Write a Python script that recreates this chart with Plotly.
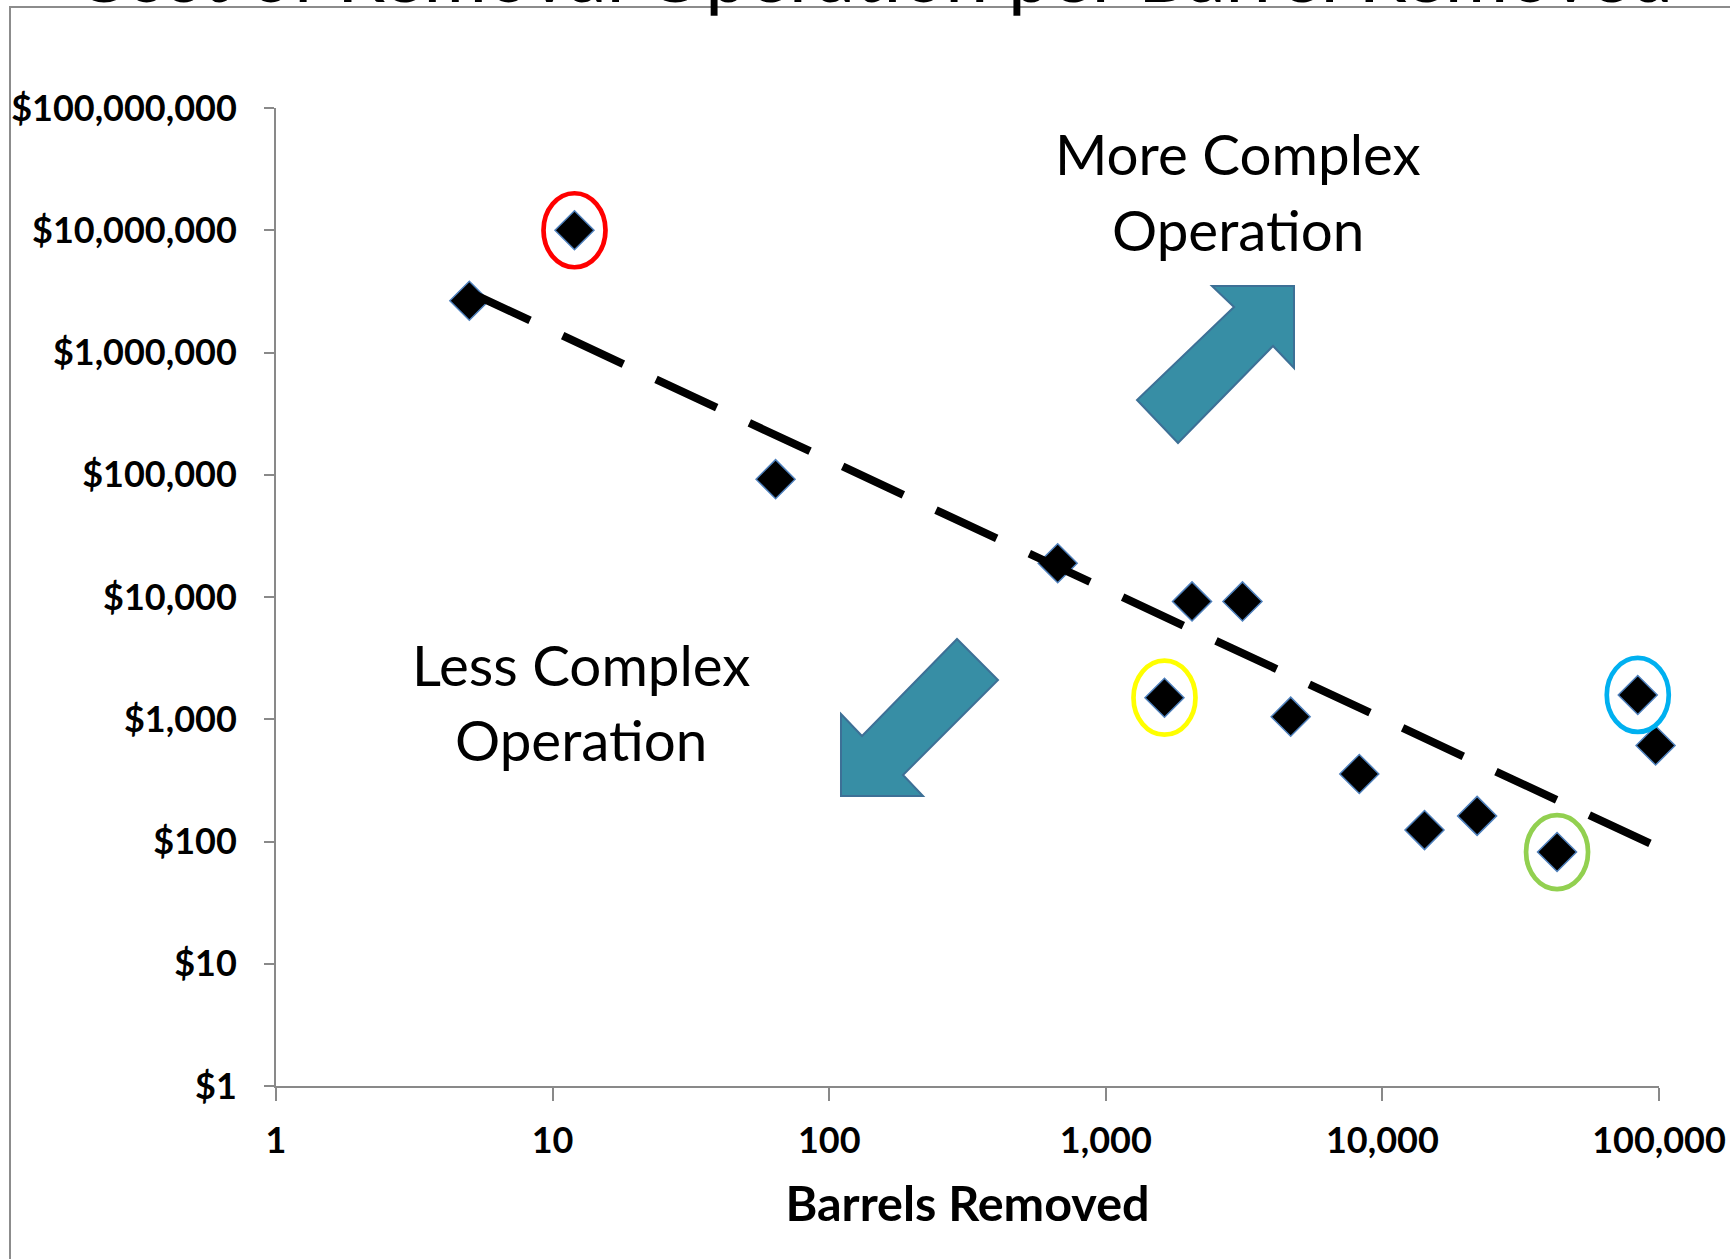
import numpy as np
import plotly.graph_objects as go

# ---------------- data ----------------
barrels = [5, 12, 64, 670, 2050, 3120, 1630, 4660, 8250, 14200, 22000, 42800, 83800, 97200]
cost_per_barrel = [2650000, 10000000, 92000, 18900, 9200, 9200, 1500, 1050, 357, 124, 162, 82, 1580, 610]

x_tick_vals = [1, 10, 100, 1000, 10000, 100000]
x_tick_text = ["1", "10", "100", "1,000", "10,000", "100,000"]
y_tick_vals = [1, 10, 100, 1000, 10000, 100000, 1000000, 10000000, 100000000]
y_tick_text = ["$1", "$10", "$100", "$1,000", "$10,000", "$100,000",
               "$1,000,000", "$10,000,000", "$100,000,000"]

highlight_index = [1, 6, 11, 12]
highlight_colors = ["#FF0000", "#FFFF00", "#92D050", "#00B0F0"]

title_text = "Cost of Removal Operation per Barrel Removed"
x_title = "Barrels Removed"
more_lines = ["More Complex", "Operation"]
less_lines = ["Less Complex", "Operation"]

# ---------------- trend (power fit, least squares in log space) ----------------
lx = np.log10(barrels)
ly = np.log10(cost_per_barrel)
slope, intercept = np.polyfit(lx, ly, 1)
trend_x = [min(barrels), max(barrels)]
trend_y = [10 ** (intercept + slope * np.log10(v)) for v in trend_x]

# ---------------- layout geometry ----------------
W, H = 1730, 1259
L, R, T, B = 276, 71, 108, 173
PW, PH = W - L - R, H - T - B
X_RANGE = [0, 5]
Y_RANGE = [0, 8]


def px(xp):
    return (xp - L) / PW


def py(yp):
    return (H - B - yp) / PH


def data_to_paper_x(v):
    return (np.log10(v) - X_RANGE[0]) / (X_RANGE[1] - X_RANGE[0])


def data_to_paper_y(v):
    return (np.log10(v) - Y_RANGE[0]) / (Y_RANGE[1] - Y_RANGE[0])


def poly_path(pts):
    return "M " + " L ".join(f"{px(a):.5f},{py(b):.5f}" for a, b in pts) + " Z"


AX = "#898989"
FONT = "Lato"

fig = go.Figure()
fig.add_trace(go.Scatter(
    x=barrels, y=cost_per_barrel, mode="markers", cliponaxis=False,
    marker=dict(symbol="diamond", size=30, color="black",
                line=dict(color="#4F81BD", width=1.5)),
    showlegend=False, hoverinfo="skip"))
fig.add_trace(go.Scatter(
    x=trend_x, y=trend_y, mode="lines", cliponaxis=False,
    line=dict(color="black", width=8, dash="67px,36px"),
    showlegend=False, hoverinfo="skip"))

shapes = []
# chart frame (extends past the right/bottom edges)
shapes.append(dict(type="rect", xref="paper", yref="paper",
                   x0=px(10), y0=py(7), x1=px(W + 40), y1=py(H + 40),
                   line=dict(color="#8C8C8C", width=2), fillcolor="rgba(0,0,0,0)",
                   layer="below"))
# highlight ellipses around selected points (half-sizes in pixels)
RX, RY = 31, 37
for i, c in zip(highlight_index, highlight_colors):
    cx = data_to_paper_x(barrels[i])
    cy = data_to_paper_y(cost_per_barrel[i])
    shapes.append(dict(type="circle", xref="paper", yref="paper",
                       x0=cx - RX / PW, x1=cx + RX / PW,
                       y0=cy - RY / PH, y1=cy + RY / PH,
                       line=dict(color=c, width=4.7), layer="above"))
# block arrows
arrow_fill = "#378EA5"
arrow_line = "#3D7096"
up_arrow = [(1212, 286), (1294, 286), (1294, 368), (1273, 346), (1178, 443), (1137, 400), (1234, 307)]
down_arrow = [(841, 714), (862, 736), (957, 639), (998, 680), (903, 775), (923, 796), (841, 796)]
for pts in (up_arrow, down_arrow):
    shapes.append(dict(type="path", xref="paper", yref="paper", path=poly_path(pts),
                       fillcolor=arrow_fill, line=dict(color=arrow_line, width=2),
                       layer="above"))

annotations = []
for txt, yp in zip(more_lines, [153, 229]):
    annotations.append(dict(text=txt, xref="paper", yref="paper", x=px(1238), y=py(yp),
                            xanchor="center", yanchor="middle", showarrow=False,
                            font=dict(family=FONT, size=56.5, color="black")))
for txt, yp in zip(less_lines, [664, 739]):
    annotations.append(dict(text=txt, xref="paper", yref="paper", x=px(581), y=py(yp),
                            xanchor="center", yanchor="middle", showarrow=False,
                            font=dict(family=FONT, size=56.5, color="black")))
# clipped chart title at the very top
annotations.append(dict(text=title_text, xref="paper", yref="paper", x=px(873), y=py(-28),
                        xanchor="center", yanchor="middle", showarrow=False,
                        font=dict(family=FONT, size=77, color="black")))

axis_common = dict(type="log", showgrid=False, zeroline=False, showline=True, automargin=False,
                   linecolor=AX, linewidth=2, ticks="outside", tickcolor=AX, tickwidth=2,
                   tickfont=dict(family=FONT, size=36, color="black", weight="bold"))

fig.update_layout(
    width=W, height=H,
    margin=dict(l=L, r=R, t=T, b=B, pad=0),
    paper_bgcolor="white", plot_bgcolor="white",
    showlegend=False,
    xaxis=dict(axis_common, range=X_RANGE, tickvals=x_tick_vals, ticktext=x_tick_text,
               ticklen=13, ticklabelstandoff=9,
               title=dict(text=x_title, standoff=27,
                          font=dict(family=FONT, size=48.5, color="black", weight="bold"))),
    yaxis=dict(axis_common, range=Y_RANGE, tickvals=y_tick_vals, ticktext=y_tick_text,
               ticklen=10, ticklabelstandoff=20),
    shapes=shapes,
    annotations=annotations,
)

fig.write_html("out.html", config={"displayModeBar": False},
               post_script="document.body.style.margin='0px';document.body.style.overflow='hidden';")
